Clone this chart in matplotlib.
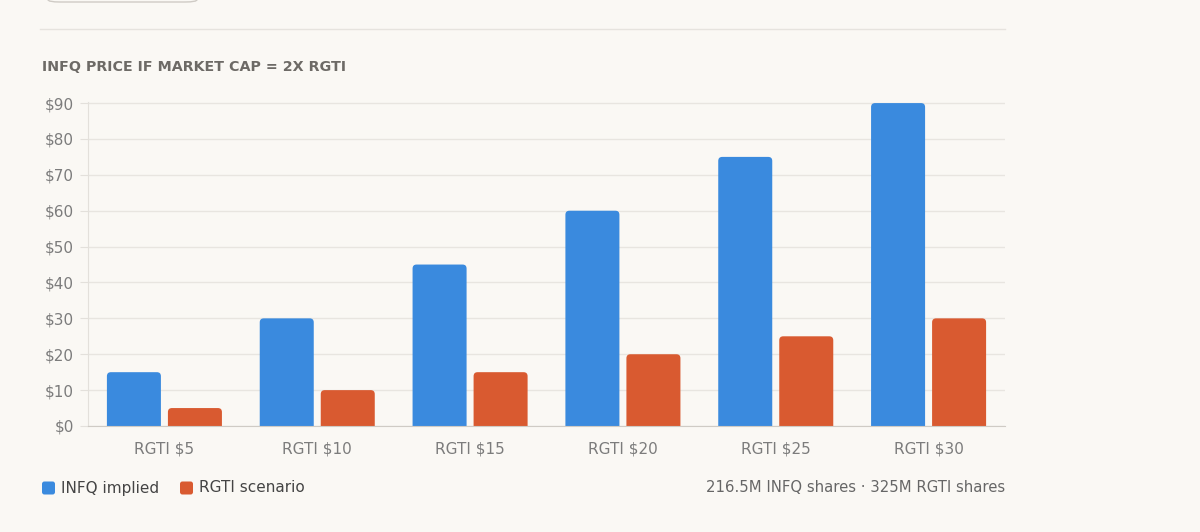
import numpy as np
import matplotlib.pyplot as plt
from matplotlib.patches import FancyBboxPatch
from matplotlib.lines import Line2D

categories = ['RGTI $5', 'RGTI $10', 'RGTI $15', 'RGTI $20', 'RGTI $25', 'RGTI $30']
infq_implied = [15, 30, 45, 60, 75, 90]
rgti_scenario = [5, 10, 15, 20, 25, 30]
yticks = [0, 10, 20, 30, 40, 50, 60, 70, 80, 90]

bg = '#faf8f4'
blue = '#3a8ade'
orange = '#d95a30'
grey_text = '#7c7c7c'

fig = plt.figure(figsize=(12, 5.32), dpi=100)
fig.patch.set_facecolor(bg)

ax = fig.add_axes([88 / 1200, 1 - 426 / 532, (1005 - 88) / 1200, (426 - 102) / 532])
ax.set_facecolor(bg)

x = np.arange(len(categories))
bw = 54 / 152.8
gap = 7 / 152.8
ax.set_xlim(-0.5, len(categories) - 0.5)
ax.set_ylim(0, 90.3)

# pixel -> data conversions for rounded corners
px_x = 1 / 152.8
px_y = 90.3 / 324
radius = 4 * px_x
aspect = px_y / px_x

def rounded_bar(xc, h, color):
    left = xc - bw / 2
    ext = 6 * px_y
    p = FancyBboxPatch((left, -ext), bw, h + ext,
                       boxstyle=f'round,pad=0,rounding_size={radius}',
                       mutation_aspect=aspect, facecolor=color,
                       edgecolor='none', zorder=3)
    ax.add_patch(p)

for i in range(len(categories)):
    rounded_bar(x[i] - (bw + gap) / 2, infq_implied[i], blue)
    rounded_bar(x[i] + (bw + gap) / 2, rgti_scenario[i], orange)

ax.set_yticks(yticks)
ax.set_yticklabels([f'${v}' for v in yticks])
ax.set_xticks(x)
ax.set_xticklabels(categories)
ax.grid(axis='y', color='#e8e5e0', linewidth=1, zorder=0)
ax.set_axisbelow(True)
for s in ['top', 'right']:
    ax.spines[s].set_visible(False)
ax.spines['left'].set_color('#e3e0db')
ax.spines['bottom'].set_color('#cfcbc5')
ax.spines['bottom'].set_zorder(4)
ax.tick_params(axis='y', length=6, color='#e3e0db', labelsize=11, labelcolor=grey_text, pad=4)
ax.tick_params(axis='x', length=0, labelsize=11, labelcolor=grey_text, pad=11)

# title
fig.text(42 / 1200, 1 - 67 / 532, 'INFQ PRICE IF MARKET CAP = 2X RGTI', fontsize=10.3,
         fontweight='semibold', color='#6d6a66', va='center', ha='left', family='DejaVu Sans')

# top separator line and partial button
fig.add_artist(Line2D([40 / 1200, 1005 / 1200], [1 - 29 / 532, 1 - 29 / 532],
                      color='#e6e3de', linewidth=1))
fig.add_artist(FancyBboxPatch((48 / 1200, 1 - 2 / 532), 149 / 1200, 30 / 532,
                              boxstyle='round,pad=0,rounding_size=0.01',
                              transform=fig.transFigure, facecolor=bg,
                              edgecolor='#cfcbc5', linewidth=1, mutation_aspect=532 / 1200))

# legend
ly = 1 - 488 / 532
for sx, col, lab in [(42, blue, 'INFQ implied'), (180, orange, 'RGTI scenario')]:
    fig.add_artist(FancyBboxPatch((sx / 1200, ly - 6.5 / 532), 13 / 1200, 13 / 532,
                                  boxstyle='round,pad=0,rounding_size=0.002',
                                  transform=fig.transFigure, facecolor=col,
                                  edgecolor='none', mutation_aspect=1200 / 532))
    fig.text((sx + 19) / 1200, ly, lab, fontsize=11, color='#444444', va='center', ha='left')

fig.text(1005 / 1200, ly, '216.5M INFQ shares · 325M RGTI shares', fontsize=10.7,
         color='#666666', va='center', ha='right')

fig.savefig('out.png', dpi=100, facecolor=bg)
